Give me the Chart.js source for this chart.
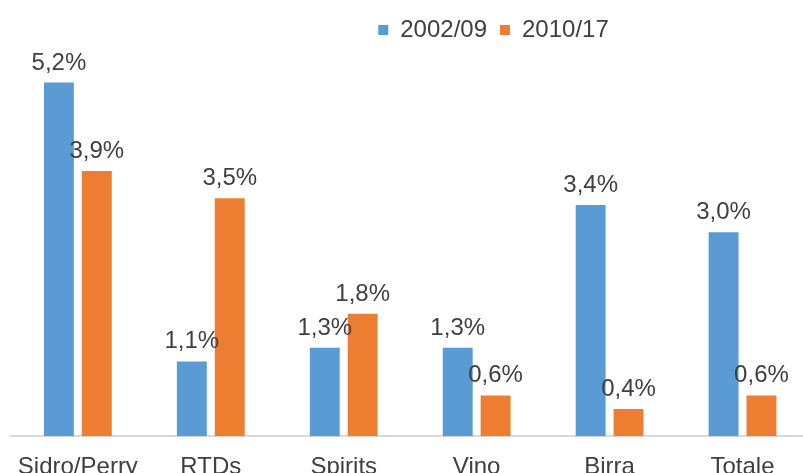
<!DOCTYPE html>
<html>
<head>
<meta charset="utf-8">
<script src="https://cdn.jsdelivr.net/npm/chart.js@4"></script>
<style>
  html, body { margin: 0; padding: 0; background: #fff; overflow: hidden; }
  #wrap { position: relative; width: 809px; height: 497px; margin-top: 5px; }
</style>
</head>
<body>
<div id="wrap"><canvas id="mainChart"></canvas></div>
<script>
const categories = ['Sidro/Perry', 'RTDs', 'Spirits', 'Vino', 'Birra', 'Totale'];
const period1 = [5.2, 1.1, 1.3, 1.3, 3.4, 3.0];
const period2 = [3.9, 3.5, 1.8, 0.6, 0.4, 0.6];
const seriesNames = ['2002/09', '2010/17'];

const textColor = '#404040';
const fontFamily = '"Liberation Sans", Arial, sans-serif';

// writes the value above each bar, with comma decimals
const barLabels = {
    id: 'barLabels',
    afterDatasetsDraw(chart) {
        const ctx = chart.ctx;
        ctx.save();
        ctx.font = `24px ${fontFamily}`;
        ctx.fillStyle = textColor;
        ctx.textAlign = 'center';
        ctx.textBaseline = 'alphabetic';
        chart.data.datasets.forEach((ds, i) => {
            chart.getDatasetMeta(i).data.forEach((bar, j) => {
                const txt = ds.data[j].toFixed(1).replace('.', ',') + '%';
                ctx.fillText(txt, bar.x, bar.y - 13);
            });
        });
        ctx.restore();
    }
};

// legend sits right of centre in the original
const legendShift = {
    id: 'legendShift',
    afterLayout(chart) {
        chart.legend.left += 84;
        chart.legend.right += 84;
    }
};

new Chart(document.getElementById('mainChart'), {
    type: 'bar',
    data: {
        labels: categories,
        datasets: [{
            label: seriesNames[0],
            data: period1,
            backgroundColor: '#5B9BD5',
            categoryPercentage: 0.57,
            barPercentage: 0.79,
        }, {
            label: seriesNames[1],
            data: period2,
            backgroundColor: '#ED7D31',
            categoryPercentage: 0.57,
            barPercentage: 0.79,
        }]
    },
    options: {
        responsive: true,
        maintainAspectRatio: false,
        animation: false,
        layout: {
            padding: { left: 10, right: 0, top: 0, bottom: 3 }
        },
        scales: {
            y: {
                display: false,
                min: 0,
                max: 5.65
            },
            x: {
                grid: { display: false, drawTicks: false },
                border: { display: true, color: '#d9d9d9', width: 2 },
                ticks: {
                    color: textColor,
                    padding: 17,
                    font: { family: fontFamily, size: 24 }
                }
            }
        },
        plugins: {
            legend: {
                position: 'top',
                labels: {
                    boxWidth: 10,
                    boxHeight: 10,
                    padding: 13,
                    color: textColor,
                    font: { family: fontFamily, size: 24 }
                }
            },
            tooltip: { enabled: false }
        }
    },
    plugins: [barLabels, legendShift]
});
</script>
</body>
</html>
